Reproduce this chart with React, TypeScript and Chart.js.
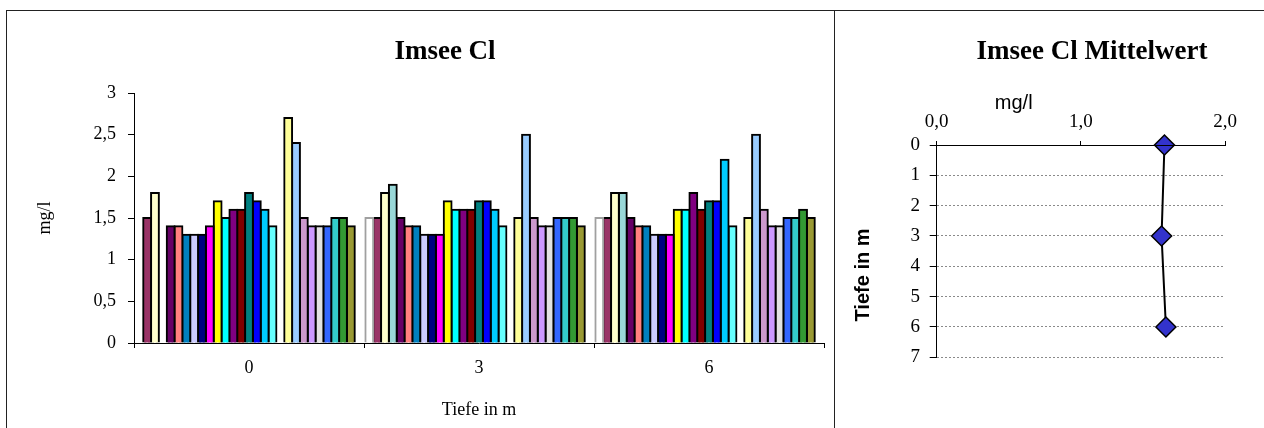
import React, { useEffect, useRef } from "react";
import { Chart, registerables } from "chart.js";

Chart.register(...registerables);

// ---------- Left chart: Imsee Cl (bars per depth) ----------
const depthCategories = ["0", "3", "6"];

const series00 = [null, 1.5, 1.5];
const series01 = [1.5, 1.5, 1.5];
const series02 = [1.8, 1.8, 1.8];
const series03 = [null, 1.9, 1.8];
const series04 = [1.4, 1.5, 1.5];
const series05 = [1.4, 1.4, 1.4];
const series06 = [1.3, 1.4, 1.4];
const series07 = [1.3, 1.3, 1.3];
const series08 = [1.3, 1.3, 1.3];
const series09 = [1.4, 1.3, 1.3];
const series10 = [1.7, 1.7, 1.6];
const series11 = [1.5, 1.6, 1.6];
const series12 = [1.6, 1.6, 1.8];
const series13 = [1.6, 1.6, 1.6];
const series14 = [1.8, 1.7, 1.7];
const series15 = [1.7, 1.7, 1.7];
const series16 = [1.6, 1.6, 2.2];
const series17 = [1.4, 1.4, 1.4];
const series18 = [null, null, null];
const series19 = [2.7, 1.5, 1.5];
const series20 = [2.4, 2.5, 2.5];
const series21 = [1.5, 1.5, 1.6];
const series22 = [1.4, 1.4, 1.4];
const series23 = [1.4, 1.4, 1.4];
const series24 = [1.4, 1.5, 1.5];
const series25 = [1.5, 1.5, 1.5];
const series26 = [1.5, 1.5, 1.6];
const series27 = [1.4, 1.4, 1.5];
const series28 = [null, null, null];

const barSeries = [
  series00, series01, series02, series03, series04, series05, series06,
  series07, series08, series09, series10, series11, series12, series13,
  series14, series15, series16, series17, series18, series19, series20,
  series21, series22, series23, series24, series25, series26, series27,
  series28,
];

const seriesFill = [
  "#FFFFFF", "#993366", "#FFFFCC", "#99D8D8", "#660066", "#FF8080", "#0080C0",
  "#CCCCFF", "#000080", "#FF00FF", "#FFFF00", "#00FFFF", "#800080", "#800000",
  "#008080", "#0000FF", "#00CCFF", "#66FFFF", "rgba(0,0,0,0)", "#FFFF99", "#99CCFF",
  "#CC99CC", "#CC99FF", "#E3E3E3", "#3366FF", "#33CCCC", "#339933", "#999933",
  "rgba(0,0,0,0)",
];

const seriesBorder = [
  "#A0A0A0", "#000", "#000", "#000", "#000", "#000", "#000",
  "#000", "#000", "#000", "#000", "#000", "#000", "#000",
  "#000", "#000", "#000", "#000", "rgba(0,0,0,0)", "#000", "#000",
  "#000", "#000", "#000", "#000", "#000", "#000", "#000",
  "rgba(0,0,0,0)",
];

// ---------- Right chart: Imsee Cl Mittelwert ----------
const meanDepths = [0, 3, 6];
const meanValues = [1.58, 1.56, 1.59];

const SERIF = "'Liberation Serif', 'Times New Roman', serif";
const SANS = "'Liberation Sans', Arial, sans-serif";

const commaNum = (v: number, digits?: number) =>
  (digits !== undefined ? v.toFixed(digits) : String(v)).replace(".", ",");

type FreeText = { text: string; x: number; y: number; font: string; rotate?: number };

const freeTextPlugin = (id: string, items: FreeText[]) => ({
  id,
  afterDraw(chart: any) {
    const ctx = chart.ctx;
    for (const it of items) {
      ctx.save();
      ctx.translate(it.x, it.y);
      if (it.rotate) ctx.rotate(it.rotate);
      ctx.font = it.font;
      ctx.fillStyle = "#000";
      ctx.textAlign = "center";
      ctx.textBaseline = "middle";
      ctx.fillText(it.text, 0, 0);
      ctx.restore();
    }
  },
});

export default function App() {
  const leftRef = useRef<HTMLCanvasElement>(null);
  const rightRef = useRef<HTMLCanvasElement>(null);

  useEffect(() => {
    const left = new Chart(leftRef.current as HTMLCanvasElement, {
      type: "bar",
      data: {
        labels: depthCategories,
        datasets: barSeries.map((data, i) => ({
          label: "S" + i,
          data: data as any,
          backgroundColor: seriesFill[i],
          borderColor: seriesBorder[i],
          borderWidth: 2,
          inflateAmount: 1,
          borderSkipped: "start",
          barPercentage: 1,
          categoryPercentage: 0.988,
        })) as any,
      },
      options: {
        animation: false,
        responsive: false,
        maintainAspectRatio: false,
        layout: { padding: { left: 0, right: 52, top: 93, bottom: 0 } },
        plugins: {
          legend: { display: false },
          tooltip: { enabled: false },
          title: { display: false },
        },
        scales: {
          x: {
            type: "category",
            offset: true,
            grid: {
              offset: true,
              drawOnChartArea: false,
              drawTicks: true,
              tickLength: 5,
              color: "#000",
            },
            border: { display: true, color: "#000", width: 1, z: 1 },
            ticks: {
              color: "#000",
              font: { family: SERIF, size: 18 },
              padding: 9,
              maxRotation: 0,
            },
            title: {
              display: true,
              text: "Tiefe in m",
              color: "#000",
              font: { family: SERIF, size: 18 },
              padding: { top: 0, bottom: 7.2 },
            },
            afterFit: (s: any) => {
              s.height = 85;
            },
          },
          y: {
            type: "linear",
            min: 0,
            max: 3,
            grid: {
              drawOnChartArea: false,
              drawTicks: true,
              tickLength: 6,
              color: "#000",
            },
            border: { display: true, color: "#000", width: 1, z: 1 },
            ticks: {
              stepSize: 0.5,
              color: "#000",
              font: { family: SERIF, size: 18 },
              padding: 12,
              callback: (v: any) => commaNum(Number(v)),
            },
            title: {
              display: true,
              text: "mg/l",
              color: "#000",
              font: { family: SERIF, size: 18 },
              padding: { top: 34.2, bottom: 0 },
            },
            afterFit: (s: any) => {
              s.width = 134;
            },
          },
        },
      } as any,
      plugins: [
        freeTextPlugin("leftTitle", [
          { text: "Imsee Cl", x: 445, y: 52, font: `bold 27px ${SERIF}` },
        ]),
      ],
    });

    const right = new Chart(rightRef.current as HTMLCanvasElement, {
      type: "line",
      data: {
        datasets: [
          {
            label: "Mittelwert",
            data: meanDepths.map((d, i) => ({ x: meanValues[i], y: d })),
            borderColor: "#000",
            borderWidth: 2,
            pointStyle: "rectRot",
            pointRadius: 10,
            pointBackgroundColor: "#3333CC",
            pointBorderColor: "#000",
            pointBorderWidth: 1.5,
            tension: 0,
            fill: false,
            clip: false,
          },
        ],
      },
      options: {
        animation: false,
        responsive: false,
        maintainAspectRatio: false,
        layout: { padding: { left: 0, right: 115, top: 0, bottom: 70.7 } },
        plugins: {
          legend: { display: false },
          tooltip: { enabled: false },
          title: { display: false },
        },
        scales: {
          x: {
            type: "linear",
            position: "top",
            min: 0,
            max: 2,
            grid: {
              drawOnChartArea: false,
              drawTicks: true,
              tickLength: 4,
              color: "#000",
            },
            border: { display: true, color: "#000", width: 1, z: 1 },
            ticks: {
              stepSize: 1,
              color: "#000",
              font: { family: SERIF, size: 19 },
              padding: 7.9,
              callback: (v: any) => commaNum(Number(v), 1),
            },
            afterFit: (s: any) => {
              s.height = 145;
            },
          },
          y: {
            type: "linear",
            reverse: true,
            min: 0,
            max: 7,
            grid: {
              drawOnChartArea: true,
              drawTicks: true,
              tickLength: 7,
              lineWidth: 1,
              color: (c: any) => (c.tick && c.tick.value === 0 ? "rgba(0,0,0,0)" : "#8A8A8A"),
              tickColor: "#000",
            },
            border: { display: true, color: "#000", width: 1, dash: [2, 2], z: 1 },
            ticks: {
              stepSize: 1,
              color: "#000",
              font: { family: SERIF, size: 19 },
              padding: 9.7,
            },
            afterFit: (s: any) => {
              s.width = 96.7;
            },
          },
        },
      } as any,
      plugins: [
        freeTextPlugin("rightTexts", [
          { text: "Imsee Cl Mittelwert", x: 1092 - 840, y: 52.5, font: `bold 27px ${SERIF}` },
          { text: "mg/l", x: 1013.7 - 840, y: 103, font: `20px ${SANS}` },
          { text: "Tiefe in m", x: 863 - 840, y: 275, font: `bold 20px ${SANS}`, rotate: -Math.PI / 2 },
        ]),
      ],
    });

    return () => {
      left.destroy();
      right.destroy();
    };
  }, []);

  return (
    <div
      style={{
        position: "absolute",
        left: 0,
        top: 0,
        width: 1264,
        height: 428,
        overflow: "hidden",
        background: "#fff",
      }}
    >
      <canvas
        ref={leftRef}
        width={876}
        height={428}
        style={{ position: "absolute", left: 0, top: 0, width: 876, height: 428 }}
      />
      <canvas
        ref={rightRef}
        width={500}
        height={428}
        style={{ position: "absolute", left: 840, top: 0, width: 500, height: 428 }}
      />
      <div style={{ position: "absolute", left: 6, top: 10, width: 1258, height: 1, background: "#222" }} />
      <div style={{ position: "absolute", left: 6, top: 10, width: 1, height: 420, background: "#222" }} />
      <div style={{ position: "absolute", left: 834, top: 10, width: 1, height: 420, background: "#222" }} />
    </div>
  );
}
